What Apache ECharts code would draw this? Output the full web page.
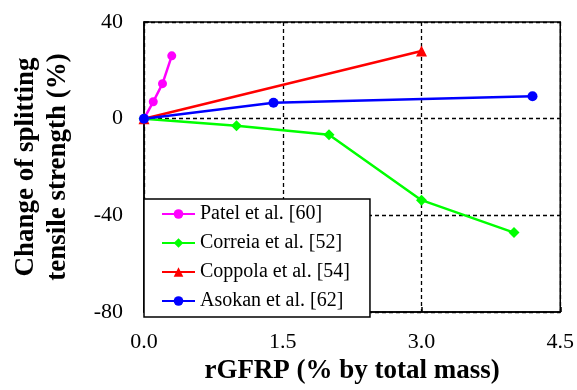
<!DOCTYPE html>
<html>
<head>
<meta charset="utf-8">
<script src="https://cdn.jsdelivr.net/npm/echarts@6/dist/echarts.min.js"></script>
<style>
  html, body { margin: 0; padding: 0; background: #fff; }
  #chart { width: 577px; height: 390px; }
</style>
</head>
<body>
<div id="chart"></div>
<script>
// rGFRP content (% by total mass) vs. change of splitting tensile strength (%)
const patelX = [0, 0.1, 0.2, 0.3];
const patelY = [0, 7, 14.5, 26];
const correiaX = [0, 1.0, 2.0, 3.0, 4.0];
const correiaY = [0, -2.9, -6.6, -33.7, -47.1];
const coppolaX = [0, 3.0];
const coppolaY = [0, 28];
const asokanX = [0, 1.4, 4.2];
const asokanY = [0, 6.6, 9.3];

const seriesNames = ['Patel et al. [60]', 'Correia et al. [52]', 'Coppola et al. [54]', 'Asokan et al. [62]'];
const xTicks = [0, 1.5, 3.0, 4.5];
const yTicks = [-80, -40, 0, 40];

const FONT = '"Liberation Serif", "Times New Roman", serif';

function pairs(xs, ys) {
  return xs.map((x, i) => [x, ys[i]]);
}

function lineSeries(name, xs, ys, color, symbol, size) {
  return {
    name: name,
    type: 'line',
    data: pairs(xs, ys),
    symbol: symbol,
    symbolSize: size,
    showAllSymbol: true,
    lineStyle: { color: color, width: 2.5 },
    itemStyle: { color: color },
    emphasis: { disabled: true },
    animation: false
  };
}

const dashed = { show: true, lineStyle: { color: '#000', width: 1.3, type: [4, 3] } };

const chart = echarts.init(document.getElementById('chart'), null, { renderer: 'canvas' });
chart.setOption({
  backgroundColor: '#fff',
  animation: false,
  grid: { left: 144, right: 14, top: 22, bottom: 76, show: true, borderColor: '#000', borderWidth: 1.5 },
  legend: {
    orient: 'vertical',
    left: 144,
    top: 199,
    data: seriesNames,
    itemWidth: 33,
    itemHeight: 12,
    itemGap: 9,
    padding: [5, 20, 6, 17],
    backgroundColor: '#fff',
    borderColor: '#000',
    borderWidth: 1.5,
    borderRadius: 0,
    textStyle: { fontFamily: FONT, fontSize: 20, color: '#000', lineHeight: 20, padding: [0, 0, 0, 0] },
    selectedMode: false,
    z: 10
  },
  xAxis: {
    type: 'value',
    min: 0,
    max: 4.5,
    interval: 1.5,
    name: 'rGFRP (% by total mass)',
    nameLocation: 'middle',
    nameGap: 44,
    nameTextStyle: { fontFamily: FONT, fontSize: 27, fontWeight: 'bold', color: '#000' },
    axisLine: { show: true, onZero: false, lineStyle: { color: '#000', width: 1.5 } },
    axisTick: { show: true, inside: true, length: 5, lineStyle: { color: '#000', width: 1.5 } },
    axisLabel: {
      fontFamily: FONT, fontSize: 22, color: '#000', margin: 19,
      formatter: v => xTicks.includes(v) ? v.toFixed(1) : ''
    },
    splitLine: dashed
  },
  yAxis: {
    type: 'value',
    min: -80,
    max: 40,
    interval: 40,
    name: 'Change of splitting\ntensile strength (%)',
    nameLocation: 'middle',
    nameRotate: 90,
    nameGap: 70,
    nameTextStyle: { fontFamily: FONT, fontSize: 27, fontWeight: 'bold', color: '#000', lineHeight: 32 },
    axisLine: { show: true, onZero: false, lineStyle: { color: '#000', width: 1.5 } },
    axisTick: { show: true, inside: true, length: 5, lineStyle: { color: '#000', width: 1.5 } },
    axisLabel: {
      fontFamily: FONT, fontSize: 22, color: '#000', margin: 21, padding: [5, 0, 0, 0],
      formatter: v => yTicks.includes(v) ? String(v) : ''
    },
    splitLine: dashed
  },
  series: [
    lineSeries(seriesNames[0], patelX, patelY, '#FF00FF', 'circle', 9),
    lineSeries(seriesNames[1], correiaX, correiaY, '#00FF00', 'diamond', 11),
    lineSeries(seriesNames[2], coppolaX, coppolaY, '#FF0000', 'triangle', 11),
    lineSeries(seriesNames[3], asokanX, asokanY, '#0000FF', 'circle', 10)
  ]
});
</script>
</body>
</html>
